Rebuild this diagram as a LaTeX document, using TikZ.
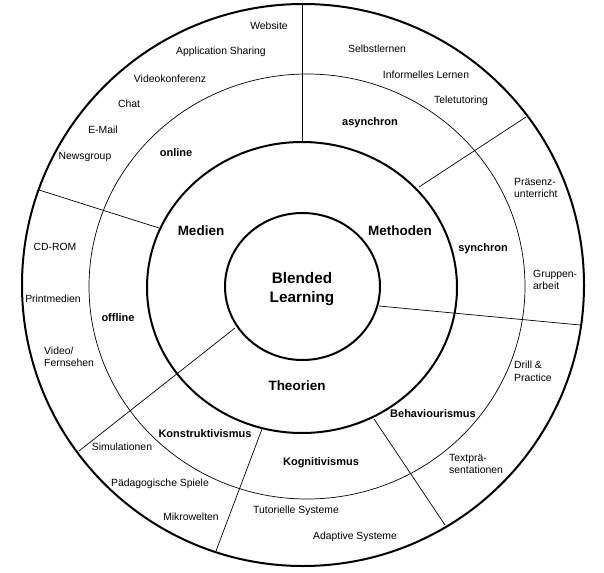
\documentclass[tikz,border=0pt]{standalone}
\usepackage{fontspec}
\setmainfont{Liberation Sans}

\begin{document}
\begin{tikzpicture}[x=1pt, y=-1pt,
        ring/.style={line width=2pt},
        thinring/.style={line width=0.7pt},
        divider/.style={line width=0.7pt},
        item/.style={inner sep=0pt, font=\fontsize{10.4}{12.5}\selectfont, align=left},
        sub/.style={inner sep=0pt, font=\fontsize{11}{13}\selectfont\bfseries},
        area/.style={inner sep=0pt, font=\fontsize{13.5}{16}\selectfont\bfseries},
        core/.style={inner sep=0pt, font=\fontsize{15.3}{19}\selectfont\bfseries, align=center}]
    \useasboundingbox (0,0) rectangle (604,572);

    % rings
    \draw[ring] (303,285) circle (281);
    \draw[thinring] (307,286.5) ellipse (218 and 212.5);
    \draw[ring] (302,287.5) ellipse (155 and 145.5);
    \draw[ring] (302.5,286.5) ellipse (77.5 and 73.5);

    % dividers
    \draw[divider] (302,4) -- (302,142);
    \draw[divider] (419,187) -- (526,117);
    \draw[divider] (39,190) -- (159,228);
    \draw[divider] (379,306) -- (580,325);
    \draw[divider] (235,328) -- (79,451);
    \draw[divider] (262,429) -- (216,551);
    \draw[divider] (374,419) -- (445,525);

    % centre
    \node[core] (blended) at (302,289.5) {Blended\\Learning};

    % Medien
    \node[area] (medien) at (201,231) {Medien};
    \node[sub] (online) at (176,153) {online};
    \node[sub] (offline) at (118,318) {offline};
    \node[item] (website) at (269,26) {Website};
    \node[item] (appsharing) at (221,52) {Application Sharing};
    \node[item] (videokonf) at (170,79) {Videokonferenz};
    \node[item] (chat) at (129,104) {Chat};
    \node[item] (email) at (103,130) {E-Mail};
    \node[item] (newsgroup) at (85,157) {Newsgroup};
    \node[item] (cdrom) at (55,247) {CD-ROM};
    \node[item] (printmedien) at (53,299) {Printmedien};
    \node[item, anchor=west] (video) at (44,357) {Video/\\Fernsehen};

    % Methoden
    \node[area] (methoden) at (400,231) {Methoden};
    \node[sub] (asynchron) at (370,123) {asynchron};
    \node[sub] (synchron) at (483,249) {synchron};
    \node[item] (selbst) at (377,49) {Selbstlernen};
    \node[item] (informell) at (426,75) {Informelles Lernen};
    \node[item] (teletutor) at (461,101) {Teletutoring};
    \node[item, anchor=west] (praesenz) at (514,188) {Präsenz-\\unterricht};
    \node[item, anchor=west] (gruppen) at (533,280) {Gruppen-\\arbeit};

    % Theorien
    \node[area] (theorien) at (297,386) {Theorien};
    \node[sub] (konstrukt) at (205,434) {Konstruktivismus};
    \node[sub] (kognitiv) at (321,463) {Kognitivismus};
    \node[sub] (behaviour) at (433,414) {Behaviourismus};
    \node[item] (simul) at (122,447) {Simulationen};
    \node[item] (spiele) at (160,484) {Pädagogische Spiele};
    \node[item] (mikro) at (191,517) {Mikrowelten};
    \node[item] (tutoriell) at (296,511) {Tutorielle Systeme};
    \node[item] (adaptive) at (355,537) {Adaptive Systeme};
    \node[item, anchor=west] (drill) at (514,371.5) {Drill \&\\Practice};
    \node[item, anchor=west] (textpraes) at (449,464) {Textprä-\\sentationen};
\end{tikzpicture}
\end{document}
